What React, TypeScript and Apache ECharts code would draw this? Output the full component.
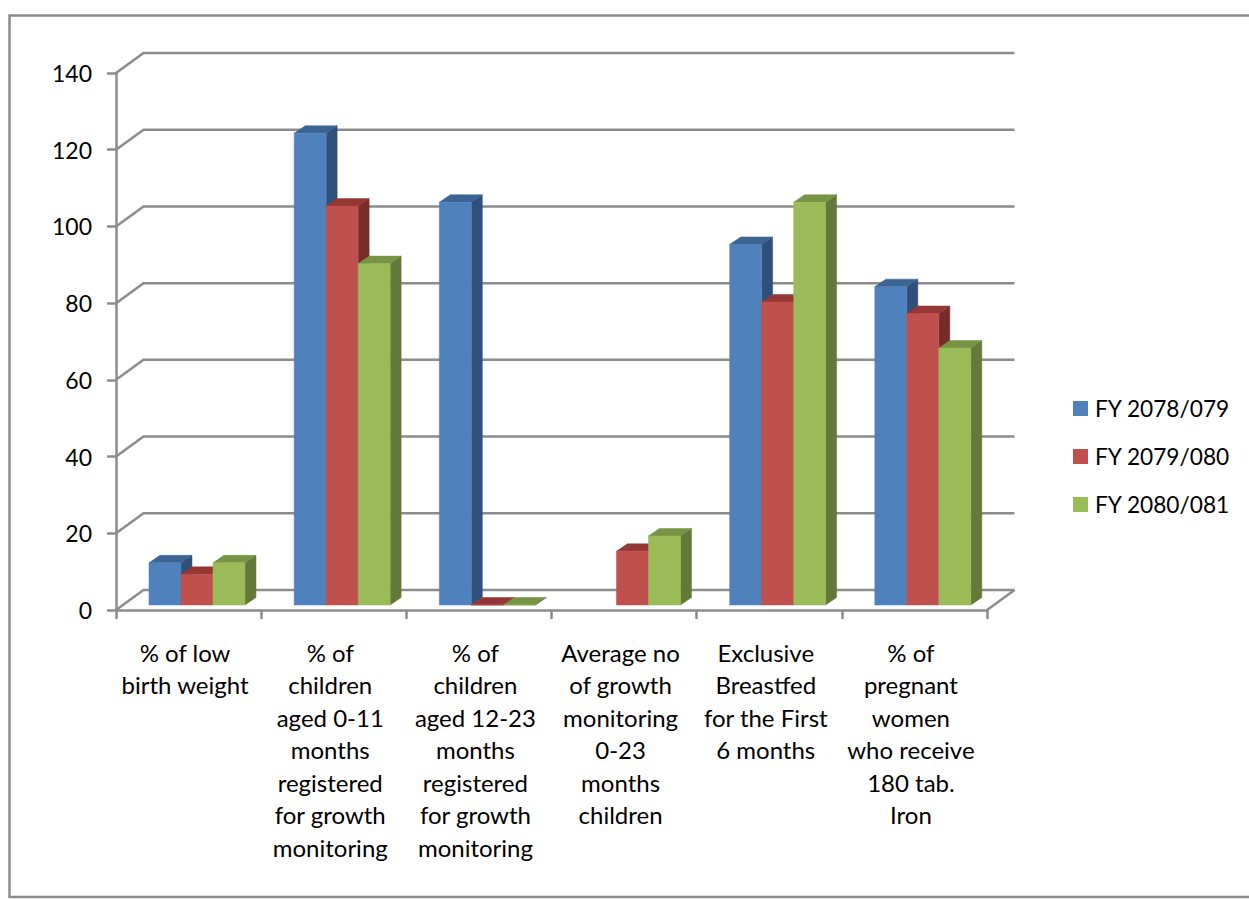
import React, { useEffect, useRef } from "react";
import * as echarts from "echarts";

const categories = [
  "% of low\nbirth weight",
  "% of\nchildren\naged 0-11\nmonths\nregistered\nfor growth\nmonitoring",
  "% of\nchildren\naged 12-23\nmonths\nregistered\nfor growth\nmonitoring",
  "Average no\nof growth\nmonitoring\n0-23\nmonths\nchildren",
  "Exclusive\nBreastfed\nfor the First\n6 months",
  "% of\npregnant\nwomen\nwho receive\n180 tab.\nIron",
];
const seriesNames = ["FY 2078/079", "FY 2079/080", "FY 2080/081"];
const values2078 = [11, 123, 105, null, 94, 83];
const values2079 = [8, 104, 0, 14, 79, 76];
const values2080 = [11, 89, 0, 18, 105, 67];
const yTicks = [0, 20, 40, 60, 80, 100, 120, 140];

const faces = [
  { front: "#4F81BD", top: "#3B6493", side: "#2F5179" },
  { front: "#C0504D", top: "#953735", side: "#772C2A" },
  { front: "#9BBB59", top: "#779344", side: "#637939" },
];

const FONT = "Lato";
const AXIS_GREY = "#8C8C8C";
const LINE_WIDTH = 2.5;
const WALL_DX = 27.5;
const WALL_DY = 20;
const BAR_DX = 11;
const BAR_DY = 7.5;
const BAR_SHIFT_X = 8.4;
const BAR_SHIFT_Y = 5;
const BAR_FRACTION = 0.2204;

// Back wall gridlines with the receding edges on both sides of the plot.
const renderWall = (params: any, api: any) => {
  const cs = params.coordSys;
  const y = api.coord([0, api.value(1)])[1];
  const left = cs.x;
  const right = cs.x + cs.width;
  const isFloor = api.value(1) === 0;
  const shape = { fill: "none", stroke: AXIS_GREY, lineWidth: LINE_WIDTH };
  const children: any[] = [
    {
      type: "polyline",
      shape: {
        points: [
          [left, y],
          [left + WALL_DX, y - WALL_DY],
          [right + WALL_DX, y - WALL_DY],
        ],
      },
      style: shape,
    },
  ];
  if (isFloor) {
    children.push({
      type: "line",
      shape: { x1: right, y1: y, x2: right + WALL_DX, y2: y - WALL_DY },
      style: shape,
    });
  }
  return { type: "group", children };
};

// A bar as three faces: front, top and right side.
const renderBar = (seriesIndex: number) => (_params: any, api: any) => {
  const cat = api.value(0);
  const val = api.value(1);
  if (val == null || Number.isNaN(val)) return null;
  const band = api.size([1, 0])[0];
  const w = band * BAR_FRACTION;
  const centre = api.coord([cat, 0])[0] + BAR_SHIFT_X;
  const x0 = centre - 1.5 * w + seriesIndex * w;
  const x1 = x0 + w;
  const yBase = api.coord([cat, 0])[1] - BAR_SHIFT_Y;
  const yTop = api.coord([cat, val])[1] - BAR_SHIFT_Y;
  const c = faces[seriesIndex];
  const poly = (points: number[][], fill: string) => ({
    type: "polygon",
    shape: { points },
    style: { fill, stroke: fill, lineWidth: 0.5 },
  });
  return {
    type: "group",
    children: [
      poly(
        [
          [x1, yBase],
          [x1 + BAR_DX, yBase - BAR_DY],
          [x1 + BAR_DX, yTop - BAR_DY],
          [x1, yTop],
        ],
        c.side,
      ),
      poly(
        [
          [x0, yTop],
          [x0 + BAR_DX, yTop - BAR_DY],
          [x1 + BAR_DX, yTop - BAR_DY],
          [x1, yTop],
        ],
        c.top,
      ),
      poly(
        [
          [x0, yBase],
          [x1, yBase],
          [x1, yTop],
          [x0, yTop],
        ],
        c.front,
      ),
    ],
  };
};

export default function App() {
  const ref = useRef<HTMLDivElement>(null);

  useEffect(() => {
    if (!ref.current) return;
    const chart = echarts.init(ref.current, undefined, { renderer: "svg" });
    const allValues = [values2078, values2079, values2080];
    chart.setOption({
      animation: false,
      backgroundColor: "#FFFFFF",
      textStyle: { fontFamily: FONT },
      graphic: [
        {
          type: "rect",
          shape: { x: 9.5, y: 15.5, width: 1300, height: 881.5 },
          style: { fill: "none", stroke: AXIS_GREY, lineWidth: LINE_WIDTH },
          silent: true,
        },
      ],
      grid: { left: 116, right: 262, top: 73, bottom: 289 },
      legend: {
        show: true,
        orient: "vertical",
        left: 1068,
        top: 392,
        itemWidth: 15,
        itemHeight: 15,
        itemGap: 25,
        icon: "rect",
        data: seriesNames,
        textStyle: { fontFamily: FONT, fontSize: 22.7, color: "#000000", padding: [0, 0, 0, 2] },
      },
      xAxis: {
        type: "category",
        data: categories,
        boundaryGap: true,
        axisLine: { lineStyle: { color: AXIS_GREY, width: LINE_WIDTH } },
        axisTick: {
          show: true,
          alignWithLabel: false,
          length: 9,
          lineStyle: { color: AXIS_GREY, width: LINE_WIDTH },
        },
        axisLabel: {
          interval: 0,
          margin: 26,
          fontFamily: FONT,
          fontSize: 24,
          lineHeight: 32.5,
          color: "#000000",
          align: "center",
          padding: [0, 7, 0, 0],
        },
      },
      yAxis: {
        type: "value",
        min: 0,
        max: 140,
        interval: 20,
        splitLine: { show: false },
        axisLine: { show: true, lineStyle: { color: AXIS_GREY, width: LINE_WIDTH } },
        axisTick: { show: true, length: 9, lineStyle: { color: AXIS_GREY, width: LINE_WIDTH } },
        axisLabel: {
          margin: 24,
          fontFamily: FONT,
          fontSize: 23,
          color: "#000000",
          padding: [2, 0, 0, 0],
        },
      },
      series: [
        {
          type: "custom",
          name: "wall",
          z: 1,
          silent: true,
          renderItem: renderWall,
          encode: { x: 0, y: 1 },
          data: yTicks.map((v) => [0, v]),
        },
        ...seriesNames.map((name, i) => ({
          type: "custom",
          name,
          z: 2 + i,
          renderItem: renderBar(i),
          encode: { x: 0, y: 1 },
          itemStyle: { color: faces[i].front },
          data: allValues[i].map((v, c) => [c, v]),
        })),
      ],
    });
    return () => chart.dispose();
  }, []);

  return (
    <div
      ref={ref}
      style={{ position: "absolute", left: 0, top: 0, width: 1249, height: 899 }}
    />
  );
}
